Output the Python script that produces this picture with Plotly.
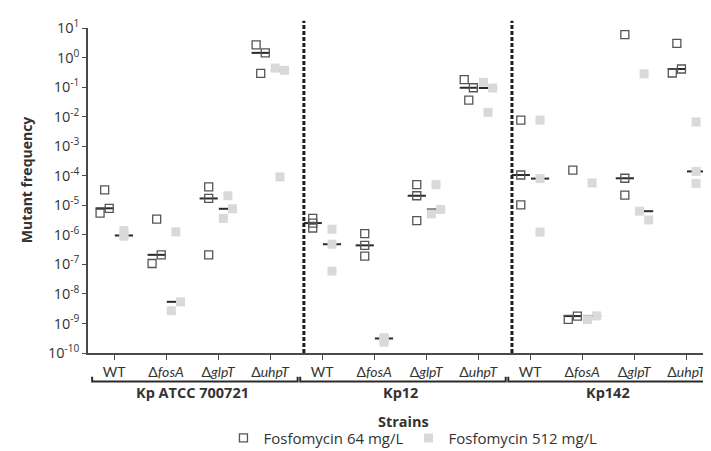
import numpy as np
import plotly.graph_objects as go

# ---------------- data ----------------
strains = ["Kp ATCC 700721", "Kp12", "Kp142"]
mutants = ["WT", "fosA", "glpT", "uhpT"]

# mutant frequencies, three replicates per mutant (WT, ΔfosA, ΔglpT, ΔuhpT)
atcc_64 = [[3.3e-5, 5.4e-6, 7.9e-6], [3.4e-6, 1.07e-7, 2.1e-7], [4.2e-5, 1.7e-5, 2.1e-7], [2.7, 1.44, 0.29]]
atcc_512 = [[1.4e-6, 9.5e-7, 9.0e-7], [1.26e-6, 2.7e-9, 5.4e-9], [2.1e-5, 3.6e-6, 7.6e-6], [0.44, 0.37, 9.1e-5]]
kp12_64 = [[3.6e-6, 2.5e-6, 1.7e-6], [1.1e-6, 4.4e-7, 1.9e-7], [5.0e-5, 2.1e-5, 3.0e-6], [0.18, 0.095, 0.036]]
kp12_512 = [[1.55e-6, 4.8e-7, 5.9e-8], [3.3e-10, 3.1e-10, 2.3e-10], [5.0e-5, 5.1e-6, 7.2e-6], [0.145, 0.093, 0.014]]
kp142_64 = [[7.6e-3, 1.06e-4, 1.03e-5], [1.55e-4, 1.38e-9, 1.78e-9], [6.0, 8.2e-5, 2.2e-5], [3.0, 0.30, 0.41]]
kp142_512 = [[7.6e-3, 8.0e-5, 1.23e-6], [5.7e-5, 1.35e-9, 1.8e-9], [0.28, 6.3e-6, 3.2e-6], [6.6e-3, 5.5e-5, 1.4e-4]]

series_64 = [atcc_64, kp12_64, kp142_64]
series_512 = [atcc_512, kp12_512, kp142_512]

y_exponents = list(range(-10, 2))
x_tick_labels = [m if m == "WT" else "Δ<i>" + m + "</i>" for m in mutants] * len(strains)

# ---------------- style ----------------
FONT = "Open Sans"
TICK_FONT = "Lato"
TXT = "#333333"
AXC = "#4a4a4a"
OPEN_EDGE = "#555555"
GRAY = "#d9d9d9"
BASE_64, BASE_512, DODGE = -0.18, 0.19, 0.088


def offsets(vals, base, d=DODGE, thr=0.35):
    lv = np.log10(vals)
    n = len(vals)
    off = [base] * n
    for i in range(n):
        close = [j for j in range(n) if j != i and abs(lv[i] - lv[j]) < thr]
        if len(close) == 1:
            j = close[0]
            close_j = [k for k in range(n) if k != j and abs(lv[j] - lv[k]) < thr]
            if len(close_j) == 1:
                off[i] = base - d if i < j else base + d
    return off


def build(series, base):
    xs, ys, mx, my = [], [], [], []
    for s, strain in enumerate(series):
        for m, vals in enumerate(strain):
            cat = s * len(mutants) + m
            for o, v in zip(offsets(vals, base), vals):
                xs.append(cat + o)
                ys.append(v)
            mx.append(cat + base)
            my.append(float(np.median(vals)))
    return xs, ys, mx, my


x64, y64, mx64, my64 = build(series_64, BASE_64)
x512, y512, mx512, my512 = build(series_512, BASE_512)

fig = go.Figure()

# medians (drawn first so filled squares cover them)
fig.add_trace(go.Scatter(
    x=mx64 + mx512, y=my64 + my512, mode="markers", showlegend=False, hoverinfo="skip",
    marker=dict(symbol="line-ew", size=13, line=dict(width=2, color="#2a2a2a")),
))
fig.add_trace(go.Scatter(
    x=x64, y=y64, mode="markers", name="Fosfomycin 64 mg/L",
    marker=dict(symbol="square", size=8, color="rgba(0,0,0,0)",
                line=dict(width=1.3, color=OPEN_EDGE)),
))
fig.add_trace(go.Scatter(
    x=x512, y=y512, mode="markers", name="Fosfomycin 512 mg/L",
    marker=dict(symbol="square", size=9, color=GRAY, line=dict(width=0)),
))

n_m = len(mutants)
x_max = len(strains) * n_m - 0.37

shapes = []
# dashed separators between strains
for s in range(1, len(strains)):
    xd = s * n_m - 1 + 0.65
    shapes.append(dict(type="line", xref="x", yref="paper", x0=xd, x1=xd, y0=0, y1=1.022,
                       line=dict(color="#1e1e1e", width=3, dash="4px,2px")))
# brackets under each strain group
for s in range(len(strains)):
    x0 = s * n_m - 0.42
    x1 = min(s * n_m + n_m - 1 + 0.53, x_max)
    shapes.append(dict(type="path", xref="x", yref="paper",
                       path=f"M {x0},-0.073 L {x0},-0.088 L {x1},-0.088 L {x1},-0.073",
                       line=dict(color="#2a2a2a", width=2)))

annotations = []
for s, name in enumerate(strains):
    annotations.append(dict(x=s * n_m + (n_m - 1) / 2, y=-0.122, xref="x", yref="paper",
                            text=f"<b>{name}</b>", showarrow=False, yanchor="middle",
                            font=dict(size=14.5, color=TXT, family=FONT)))
annotations.append(dict(x=0.5, y=-0.21, xref="paper", yref="paper", text="<b>Strains</b>",
                        showarrow=False, yanchor="middle", font=dict(size=14.5, color=TXT, family=FONT)))
annotations.append(dict(x=-0.098, y=0.532, xref="paper", yref="paper", text="<b>Mutant frequency</b>",
                        textangle=-90, showarrow=False, xanchor="center", yanchor="middle",
                        font=dict(size=14, color=TXT, family=FONT)))

fig.update_layout(
    width=711, height=451,
    margin=dict(l=80, r=0, t=20, b=106),
    paper_bgcolor="white", plot_bgcolor="white",
    font=dict(family=FONT, color=TXT),
    shapes=shapes, annotations=annotations,
    legend=dict(orientation="h", x=0.515, xanchor="center", y=-0.262, yanchor="middle",
                font=dict(size=15, color=TXT, family=FONT), itemwidth=30, traceorder="normal",
                tracegroupgap=0, bgcolor="rgba(0,0,0,0)"),
    xaxis=dict(range=[-0.5, x_max], tickmode="array", tickvals=list(range(len(x_tick_labels))),
               ticktext=x_tick_labels, showline=True, linecolor=AXC, linewidth=1.5,
               ticks="outside", ticklen=5, tickwidth=1.3, tickcolor=AXC,
               showgrid=False, zeroline=False, tickfont=dict(size=14, color=TXT, family=TICK_FONT)),
    yaxis=dict(type="log", range=[-10, 1], tickmode="array",
               tickvals=[10.0 ** e for e in y_exponents],
               ticktext=[f"10<sup>{e}</sup>" for e in y_exponents],
               showline=True, linecolor=AXC, linewidth=1.5, ticks="outside", ticklen=4,
               tickwidth=1.3, tickcolor=AXC, showgrid=False, zeroline=False,
               tickfont=dict(size=14.5, color=TXT, family=FONT)),
)

fig.write_html("out.html")
